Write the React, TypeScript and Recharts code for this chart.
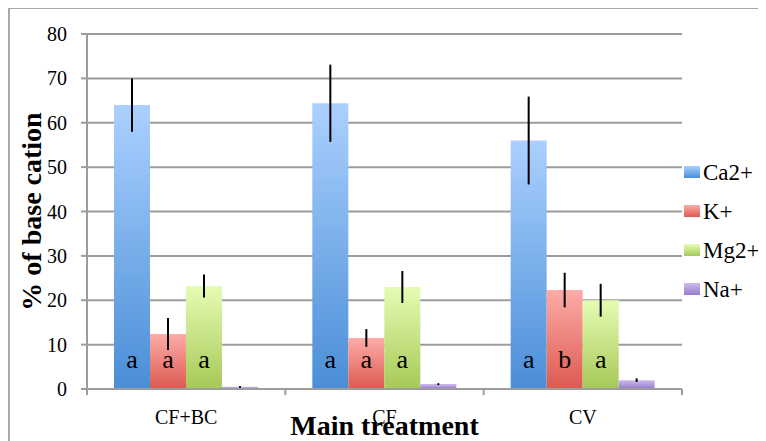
import { BarChart, Bar, XAxis, YAxis, CartesianGrid, ErrorBar, LabelList, Legend } from "recharts";

const categories = ["CF+BC", "CF", "CV"];
const ca = [64.0, 64.4, 56.0];
const caErr = [6.0, 8.7, 9.9];
const k = [12.4, 11.5, 22.3];
const kErr = [3.6, 2.0, 3.9];
const mg = [23.2, 23.0, 20.0];
const mgErr = [2.6, 3.6, 3.7];
const na = [0.5, 1.1, 2.0];
const naErr = [0.2, 0.2, 0.4];
const caLetters = ["a", "a", "a"];
const kLetters = ["a", "a", "b"];
const mgLetters = ["a", "a", "a"];
const yTicks = [0, 10, 20, 30, 40, 50, 60, 70, 80];

const series = [
  { key: "ca", name: "Ca2+", top: "#abd0ff", bottom: "#4a8ed7" },
  { key: "k", name: "K+", top: "#fdaca8", bottom: "#dc5a50" },
  { key: "mg", name: "Mg2+", top: "#e5fcb3", bottom: "#a6c957" },
  { key: "na", name: "Na+", top: "#cebaf0", bottom: "#967bc9" },
];

const data = categories.map((c, i) => ({
  name: c,
  ca: ca[i], caE: caErr[i], caL: caLetters[i],
  k: k[i], kE: kErr[i], kL: kLetters[i],
  mg: mg[i], mgE: mgErr[i], mgL: mgLetters[i],
  na: na[i], naE: naErr[i],
}));

const FONT = "Liberation Serif, DejaVu Serif, serif";
const GRID = "#9c9c9c";

const Letter = (props: any) => {
  const { x, y, width, height, value } = props;
  return (
    <text x={x + width / 2} y={y + height - 21} textAnchor="middle" style={{ fontSize: 26, fontFamily: FONT }} fill="#000">
      {value}
    </text>
  );
};

const CatTick = (props: any) => {
  const { x, y, payload, index } = props;
  const half = payload && payload.offset ? payload.offset : 99;
  return (
    <g>
      <line x1={x - half} x2={x - half} y1={y} y2={y + 6} stroke={GRID} strokeWidth={2} />
      {index === categories.length - 1 && (
        <line x1={x + half} x2={x + half} y1={y} y2={y + 6} stroke={GRID} strokeWidth={2} />
      )}
      <text x={x} y={y + 35} textAnchor="middle" style={{ fontSize: 20, fontFamily: FONT }} fill="#000">
        {payload.value}
      </text>
    </g>
  );
};

const ValTick = (props: any) => {
  const { x, y, payload } = props;
  return (
    <text x={x} y={y + 7} textAnchor="end" style={{ fontSize: 20, fontFamily: FONT }} fill="#000">
      {payload.value}
    </text>
  );
};

const LegendBox = () => (
  <div style={{ fontFamily: FONT, fontSize: 23, color: "#000", whiteSpace: "nowrap" }}>
    {series.map((s) => (
      <div key={s.key} style={{ position: "relative", height: 39, lineHeight: "20px" }}>
        <div
          style={{
            position: "absolute", left: 0, top: 0, width: 16, height: 12,
            background: `linear-gradient(${s.top}, ${s.bottom})`,
          }}
        />
        <span style={{ position: "absolute", left: 19, top: -3, fontFamily: FONT }}>{s.name}</span>
      </div>
    ))}
  </div>
);

export default function App() {
  return (
    <div style={{ position: "relative", width: 758, height: 433, fontFamily: FONT }}>
      <div
        style={{
          position: "absolute", left: 0, top: -1, right: 0, bottom: 0,
          borderLeft: "2px solid #a8a8a8", borderTop: "2px solid #a8a8a8",
        }}
      />
      <BarChart
        width={758}
        height={433}
        data={data}
        margin={{ top: 26, right: 84, left: 0, bottom: 22 }}
        barCategoryGap={27}
        barGap={0}
        style={{ fontFamily: FONT }}
      >
        <defs>
          {series.map((s) => (
            <linearGradient key={s.key} id={`g-${s.key}`} x1="0" y1="0" x2="0" y2="1">
              <stop offset="0%" stopColor={s.top} />
              <stop offset="100%" stopColor={s.bottom} />
            </linearGradient>
          ))}
        </defs>
        <CartesianGrid vertical={false} stroke={GRID} strokeWidth={2} />
        <XAxis
          dataKey="name"
          height={30}
          axisLine={{ stroke: GRID, strokeWidth: 2 }}
          tickLine={false}
          tickSize={0}
          tickMargin={0}
          tick={<CatTick />}
          interval={0}
          label={{
            content: (p: any) => {
              const vb = p.viewBox;
              const cx = vb.x + vb.width / 2;
              return (
                <g>
                  <rect x={cx - 96} y={vb.y + 30} width={192} height={24} fill="#fff" />
                  <text x={cx} y={vb.y + 46} textAnchor="middle" style={{ fontSize: 28, fontWeight: "bold", fontFamily: FONT }} fill="#000">
                    Main treatment
                  </text>
                </g>
              );
            },
          }}
        />
        <YAxis
          width={79}
          domain={[0, 80]}
          ticks={yTicks}
          interval={0}
          axisLine={{ stroke: GRID, strokeWidth: 2 }}
          tickLine={{ stroke: GRID, strokeWidth: 2 }}
          tickSize={6}
          tickMargin={14}
          tick={<ValTick />}
          label={{
            content: (p: any) => {
              const vb = p.viewBox;
              const cy = vb.y + vb.height / 2;
              return (
                <text
                  x={33}
                  y={cy}
                  transform={`rotate(-90 33 ${cy})`}
                  textAnchor="middle"
                  style={{ fontSize: 28, fontWeight: "bold", fontFamily: FONT }}
                  fill="#000"
                >
                  % of base cation
                </text>
              );
            },
          }}
        />
        <Legend
          layout="vertical"
          align="center"
          verticalAlign="middle"
          content={<LegendBox />}
          wrapperStyle={{ left: 676, top: 158, width: 82 }}
        />
        {series.map((s) => (
          <Bar key={s.key} dataKey={s.key} name={s.name} fill={`url(#g-${s.key})`} isAnimationActive={false}>
            <ErrorBar dataKey={`${s.key}E`} width={0} stroke="#000" strokeWidth={2} direction="y" isAnimationActive={false} />
            {s.key !== "na" && <LabelList dataKey={`${s.key}L`} content={<Letter />} />}
          </Bar>
        ))}
      </BarChart>
    </div>
  );
}
